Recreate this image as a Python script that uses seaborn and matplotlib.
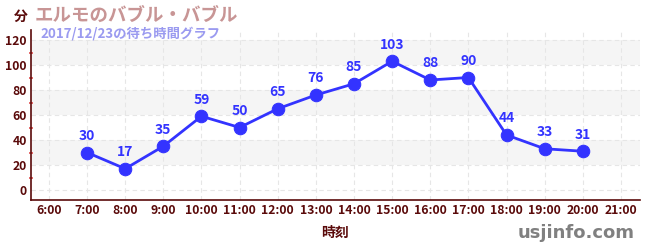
import matplotlib
matplotlib.use("Agg")
import matplotlib.pyplot as plt
import seaborn as sns
import pandas as pd

hours = [7, 8, 9, 10, 11, 12, 13, 14, 15, 16, 17, 18, 19, 20]
waits = [30, 17, 35, 59, 50, 65, 76, 85, 103, 88, 90, 44, 33, 31]
xticks = list(range(6, 22))
xticklabels = [f"{h}:00" for h in xticks]
yticks = [0, 20, 40, 60, 80, 100, 120]
title = "エルモのバブル・バブル"
subtitle = "2017/12/23の待ち時間グラフ"

sns.set_theme(style="white")
plt.rcParams['font.family'] = ['Noto Sans CJK JP', 'DejaVu Sans']

df = pd.DataFrame({"hour": hours, "wait": waits})

fig = plt.figure(figsize=(6.5, 2.5), dpi=100)
ax = fig.add_axes([31/650, 1-200/250, (640-31)/650, (200-30)/250])

line_color = "#3333ff"
spine_color = "#5a0a0a"

for lo in [20, 60, 100]:
    ax.axhspan(lo, lo + 20, color="#f5f5f5", zorder=0, lw=0)
for y in yticks:
    ax.axhline(y, color="#e6e6e6", lw=0.8, ls=(0, (4, 3)), zorder=0.5)
for x in xticks:
    ax.axvline(x, color="#e6e6e6", lw=0.8, ls=(0, (4, 3)), zorder=0.5)

sns.lineplot(data=df, x="hour", y="wait", ax=ax, color=line_color, lw=2.0,
             marker="o", markersize=9, markeredgecolor=line_color, zorder=3)

for h, w in zip(hours, waits):
    ax.annotate(str(w), (h, w), xytext=(0, 7), textcoords="offset points",
                ha="center", va="bottom", color=line_color, fontsize=10,
                fontweight="bold")

ax.set_xlim(5.53, 21.5)
ax.set_ylim(-8, 128)
ax.set_xticks(xticks)
ax.set_xticklabels(xticklabels)
ax.set_yticks(yticks)
ax.set_yticks([10, 30, 50, 70, 90, 110], minor=True)
ax.tick_params(axis="both", which="major", labelsize=8.8, colors=spine_color,
               length=4, width=1, direction="inout")
ax.tick_params(axis="y", which="minor", length=3, width=1.2, color="#e05050",
               direction="inout", left=True)
for lab in ax.get_xticklabels() + ax.get_yticklabels():
    lab.set_fontweight("bold")
    lab.set_color(spine_color)
ax.tick_params(axis="x", pad=1)
ax.tick_params(axis="y", pad=1)

for s in ["top", "right"]:
    ax.spines[s].set_visible(False)
for s in ["left", "bottom"]:
    ax.spines[s].set_color(spine_color)
    ax.spines[s].set_linewidth(1.2)

ax.set_xlabel("時刻", fontsize=10, fontweight="bold", color=spine_color, labelpad=6)
ax.set_ylabel("")

fig.text(14/650, 1-17/250, "分", fontsize=10, fontweight="bold", color=spine_color,
         va="center", ha="left")
fig.text(35/650, 1-15/250, title, fontsize=13.3, fontweight="bold", color="#c89595",
         va="center", ha="left")
fig.text(40/650, 1-33/250, subtitle, fontsize=9.6, color="#9a9af0",
         va="center", ha="left", fontweight="bold")
fig.text(635/650, 1-233/250, "usjinfo.com", fontsize=13, fontweight="bold",
         color="#808080", va="center", ha="right", family=["DejaVu Sans"])

fig.savefig("out.png", dpi=100)
